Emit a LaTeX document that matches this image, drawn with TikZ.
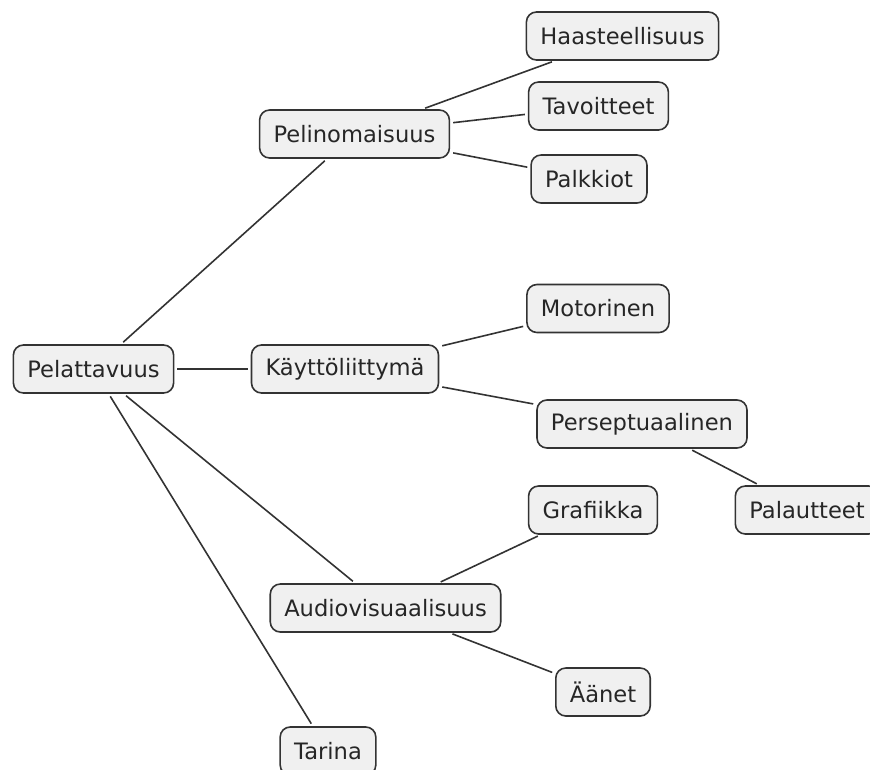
\documentclass[tikz,border=0pt]{standalone}
\usepackage{fontspec}
\setmainfont{DejaVu Sans}
\definecolor{boxfill}{HTML}{F0F0F0}
\definecolor{boxline}{HTML}{333333}
\tikzset{
  topic/.style={draw=boxline, fill=boxfill, line width=1.6pt, rounded corners=10pt,
    minimum height=48pt, inner xsep=14pt, inner ysep=0pt,
    font=\fontsize{22.6}{26}\selectfont, text=black!85},
  link/.style={draw=boxline, line width=1.6pt, shorten <=3pt, shorten >=3pt}
}
\begin{document}
\begin{tikzpicture}[x=1pt,y=-1pt]
\useasboundingbox (0,0) rectangle (870,769);
\clip (0,0) rectangle (870,769);
\node[topic] (pel)   at (93.5,369) {Pelattavuus};
\node[topic] (pelin) at (354.5,134) {Pelinomaisuus};
\node[topic] (haas)  at (622.5,36) {Haasteellisuus};
\node[topic] (tav)   at (598.5,106) {Tavoitteet};
\node[topic] (palk)  at (589,179) {Palkkiot};
\node[topic] (kay)   at (345,369) {Käyttöliittymä};
\node[topic] (mot)   at (598,308.5) {Motorinen};
\node[topic] (pers)  at (642,424) {Perseptuaalinen};
\node[topic] (pala)  at (807,510) {Palautteet};
\node[topic] (graf)  at (593,510) {Grafiikka};
\node[topic] (audio) at (385.5,608) {Audiovisuaalisuus};
\node[topic] (aanet) at (603,692) {Äänet};
\node[topic] (tar)   at (328,751) {Tarina};

\draw[link] (pel) -- (pelin);
\draw[link] (pel) -- (kay);
\draw[link] (pel) -- (audio);
\draw[link] (pel) -- (tar);
\draw[link] (pelin) -- (haas);
\draw[link] (pelin) -- (tav);
\draw[link] (pelin) -- (palk);
\draw[link] (kay) -- (mot);
\draw[link] (kay) -- (pers);
\draw[link] (pers) -- (pala);
\draw[link] (audio) -- (graf);
\draw[link] (audio) -- (aanet);
\end{tikzpicture}
\end{document}
